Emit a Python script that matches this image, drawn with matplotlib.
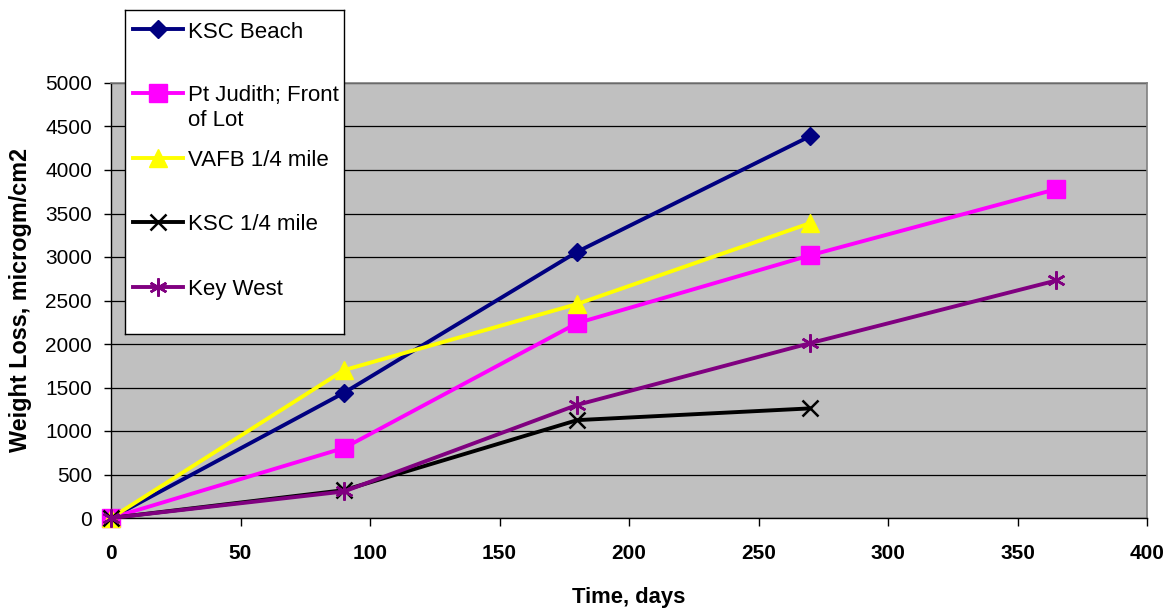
import matplotlib
matplotlib.use("Agg")
import matplotlib.pyplot as plt
from matplotlib.lines import Line2D

plt.rcParams['font.family'] = ['Liberation Sans', 'DejaVu Sans']

# ---- data ----
days_short = [0, 90, 180, 270]
days_long = [0, 90, 180, 270, 365]
ksc_beach = [0, 1440, 3060, 4390]
pt_judith = [0, 805, 2240, 3020, 3780]
vafb_quarter = [0, 1700, 2460, 3390]
ksc_quarter = [0, 320, 1125, 1260]
key_west = [0, 305, 1300, 2010, 2730]

labels = ["KSC Beach", "Pt Judith; Front\nof Lot", "VAFB 1/4 mile", "KSC 1/4 mile", "Key West"]
xs = [days_short, days_long, days_short, days_short, days_long]
ys = [ksc_beach, pt_judith, vafb_quarter, ksc_quarter, key_west]
colors = ["#000080", "#FF00FF", "#FFFF00", "#000000", "#800080"]
markers = ["D", "s", "^", "x", (6, 2, 0)]
msizes = [9, 13, 12.5, 12, 13]
mews = [1, 1, 1, 1.8, 1.8]

x_ticks = [0, 50, 100, 150, 200, 250, 300, 350, 400]
y_ticks = [0, 500, 1000, 1500, 2000, 2500, 3000, 3500, 4000, 4500, 5000]

W, H = 1172, 612
fig = plt.figure(figsize=(W / 100, H / 100), dpi=100)
L, R, T, B = 111, 1147, 83, 518
ax = fig.add_axes([L / W, 1 - B / H, (R - L) / W, (B - T) / H])
ax.set_facecolor("#C0C0C0")

FS = 15
LW = 2.8
for i in range(5):
    ax.plot(xs[i], ys[i], color=colors[i], lw=LW, marker=markers[i],
            ms=msizes[i], mew=mews[i], mfc=colors[i], mec=colors[i],
            clip_on=False, zorder=3 + i * 0.1)

ax.set_xlim(0, 400)
ax.set_ylim(0, 5000)
ax.set_xticks(x_ticks)
ax.set_yticks(y_ticks)
ax.set_xticklabels([str(v) for v in x_ticks], fontweight="bold", fontsize=FS)
ax.set_yticklabels([str(v) for v in y_ticks], fontsize=FS)
ax.tick_params(axis="x", direction="out", length=5.8, width=1, pad=13, color="black")
ax.tick_params(axis="y", direction="out", length=5, width=1, pad=8.6, color="black")
ax.yaxis.grid(True, color="#000000", lw=0.9)
ax.set_axisbelow(True)
for s in ["top", "right"]:
    ax.spines[s].set_color("#808080")
    ax.spines[s].set_linewidth(1.2)
for s in ["left", "bottom"]:
    ax.spines[s].set_color("#000000")
    ax.spines[s].set_linewidth(1.0)

fig.text(629 / W, 1 - 597 / H, "Time, days", ha="center", va="center",
         fontsize=15.8, fontweight="bold")
fig.text(21 / W, 1 - 300 / H, "Weight Loss, microgm/cm2", ha="center", va="center",
         rotation=90, fontsize=16.8, fontweight="bold")

# ---- legend box (drawn as its own axes) ----
lx0, ly0, lx1, ly1 = 125, 10, 344, 334
lax = fig.add_axes([lx0 / W, 1 - ly1 / H, (lx1 - lx0) / W, (ly1 - ly0) / H])
lax.set_zorder(10)
lax.set_facecolor("white")
lax.set_xlim(0, lx1 - lx0)
lax.set_ylim(ly1 - ly0, 0)
lax.set_xticks([])
lax.set_yticks([])
for s in lax.spines.values():
    s.set_color("black")
    s.set_linewidth(1.0)
LFS = 16
entry_y = [19, 83, 148, 212, 277]
for i in range(5):
    yy = entry_y[i]
    lax.add_line(Line2D([8, 33, 58], [yy, yy, yy], color=colors[i], lw=LW,
                        marker=markers[i], markevery=[1], ms=msizes[i], mew=mews[i],
                        mfc=colors[i], mec=colors[i]))
    if "\n" in labels[i]:
        lax.text(63, yy - 8, labels[i], ha="left", va="top", fontsize=LFS,
                 linespacing=1.27)
    else:
        lax.text(63, yy + 3, labels[i], ha="left", va="center", fontsize=LFS)

fig.savefig("out.png", dpi=100)
